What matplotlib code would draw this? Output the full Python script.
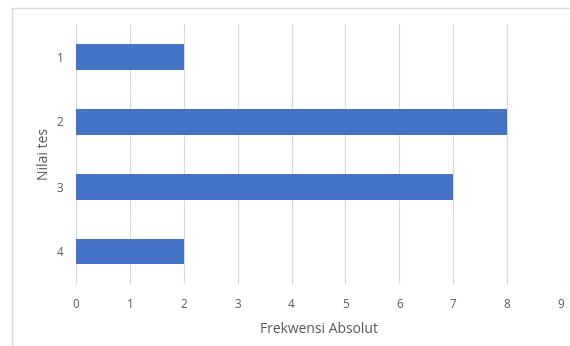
import matplotlib
matplotlib.use("Agg")
import matplotlib.pyplot as plt
from matplotlib.lines import Line2D

# test score categories and their absolute frequencies
categories = ["1", "2", "3", "4"]
frequencies = [2, 8, 7, 2]
x_ticks = list(range(0, 10))

bar_colour = "#4472C4"
text_colour = "#595959"
grid_colour = "#D9D9D9"

plt.rcParams["font.family"] = ["Open Sans", "DejaVu Sans"]

fig = plt.figure(figsize=(5.70, 3.46), dpi=100)
ax = fig.add_axes([76 / 570, 1 - 284 / 346, (561 - 76) / 570, (284 - 24) / 346])

positions = list(range(1, len(categories) + 1))
ax.barh(positions, frequencies, height=0.4, color=bar_colour, zorder=3)

ax.set_xlim(0, 9)
ax.set_ylim(len(categories) + 0.5, 0.5)
ax.set_xticks(x_ticks)
ax.set_xticklabels([str(t) for t in x_ticks])
ax.set_yticks(positions)
ax.set_yticklabels(categories)

ax.grid(axis="x", color=grid_colour, linewidth=0.9, zorder=0)
ax.tick_params(axis="both", length=0, labelsize=8.5, colors=text_colour)
ax.tick_params(axis="x", pad=10)
ax.tick_params(axis="y", pad=9)
for spine in ax.spines.values():
    spine.set_visible(False)

ax.set_xlabel("Frekwensi Absolut", fontsize=10, color=text_colour, labelpad=8)
ax.set_ylabel("Nilai tes", fontsize=10, color=text_colour, labelpad=3)

# chart-area border: only the top and left edges fall inside the figure
fig.add_artist(Line2D([12 / 570, 1], [1 - 8 / 346, 1 - 8 / 346],
                      transform=fig.transFigure, color=grid_colour, linewidth=1))
fig.add_artist(Line2D([12 / 570, 12 / 570], [0, 1 - 8 / 346],
                      transform=fig.transFigure, color=grid_colour, linewidth=1))

fig.savefig("out.png", dpi=100, facecolor="white")
